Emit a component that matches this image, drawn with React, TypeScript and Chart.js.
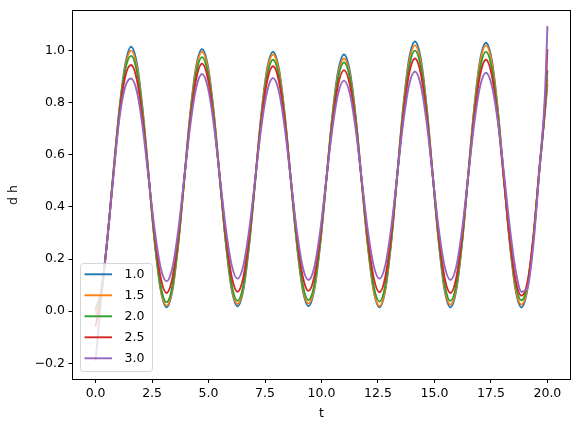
import React, { useEffect, useRef } from "react";
import { Chart, registerables } from "chart.js";

Chart.register(...registerables);

// time samples (t)
const tValues = [
  0, 0.262, 0.524, 0.785, 1.047, 1.309, 1.571, 1.833, 2.094, 2.356, 2.618, 2.88,
  3.142, 3.403, 3.665, 3.927, 4.189, 4.451, 4.712, 4.974, 5.236, 5.498, 5.76, 6.021,
  6.283, 6.545, 6.807, 7.069, 7.33, 7.592, 7.854, 8.116, 8.378, 8.639, 8.901, 9.163,
  9.425, 9.687, 9.948, 10.21, 10.472, 10.734, 10.996, 11.257, 11.519, 11.781, 12.043, 12.305,
  12.566, 12.828, 13.09, 13.352, 13.614, 13.875, 14.137, 14.399, 14.661, 14.923, 15.184, 15.446,
  15.708, 15.97, 16.232, 16.493, 16.755, 17.017, 17.279, 17.541, 17.802, 18.064, 18.326, 18.588,
  18.85, 19.111, 19.373, 19.635, 19.897, 20.0,
];

const seriesLabels = ["1.0", "1.5", "2.0", "2.5", "3.0"];
const seriesColors = ["#1f77b4", "#ff7f0e", "#2ca02c", "#d62728", "#9467bd"];

const dh10 = [
  0.0, 0.085, 0.28, 0.53, 0.77, 0.945, 1.015,
  0.948, 0.765, 0.515, 0.265, 0.082, 0.015,
  0.081, 0.263, 0.51, 0.758, 0.939, 1.005,
  0.939, 0.759, 0.512, 0.266, 0.085, 0.019,
  0.084, 0.263, 0.507, 0.751, 0.93, 0.995,
  0.93, 0.751, 0.508, 0.264, 0.085, 0.02,
  0.085, 0.261, 0.503, 0.744, 0.92, 0.985,
  0.92, 0.743, 0.5, 0.258, 0.08, 0.015,
  0.083, 0.27, 0.525, 0.78, 0.967, 1.035,
  0.967, 0.78, 0.525, 0.27, 0.083, 0.015,
  0.083, 0.269, 0.523, 0.776, 0.962, 1.03,
  0.962, 0.776, 0.523, 0.269, 0.083, 0.015,
  0.082, 0.27, 0.53, 0.77, 0.87,
];

const dh15 = [
  -0.02, 0.08, 0.28, 0.53, 0.765, 0.935, 1.0,
  0.934, 0.756, 0.511, 0.267, 0.088, 0.022,
  0.087, 0.265, 0.509, 0.752, 0.93, 0.995,
  0.93, 0.753, 0.512, 0.27, 0.093, 0.028,
  0.092, 0.267, 0.507, 0.746, 0.921, 0.985,
  0.921, 0.746, 0.508, 0.269, 0.094, 0.03,
  0.093, 0.265, 0.5, 0.735, 0.907, 0.97,
  0.906, 0.733, 0.495, 0.258, 0.084, 0.02,
  0.087, 0.27, 0.52, 0.77, 0.953, 1.02,
  0.953, 0.771, 0.523, 0.274, 0.092, 0.025,
  0.092, 0.274, 0.523, 0.771, 0.953, 1.02,
  0.953, 0.771, 0.523, 0.274, 0.092, 0.025,
  0.09, 0.275, 0.53, 0.775, 0.89,
];

const dh20 = [
  0.01, 0.085, 0.28, 0.525, 0.76, 0.925, 0.98,
  0.917, 0.744, 0.508, 0.271, 0.098, 0.035,
  0.098, 0.27, 0.505, 0.74, 0.912, 0.975,
  0.912, 0.741, 0.508, 0.274, 0.103, 0.04,
  0.102, 0.271, 0.503, 0.734, 0.903, 0.965,
  0.903, 0.735, 0.504, 0.274, 0.105, 0.043,
  0.104, 0.271, 0.499, 0.727, 0.894, 0.955,
  0.894, 0.726, 0.496, 0.267, 0.099, 0.037,
  0.102, 0.278, 0.519, 0.759, 0.935, 1.0,
  0.936, 0.76, 0.52, 0.28, 0.104, 0.04,
  0.104, 0.279, 0.518, 0.756, 0.931, 0.995,
  0.931, 0.757, 0.519, 0.28, 0.106, 0.042,
  0.1, 0.28, 0.535, 0.785, 0.925,
];

const dh25 = [
  -0.06, 0.075, 0.28, 0.52, 0.75, 0.9, 0.945,
  0.886, 0.726, 0.508, 0.289, 0.129, 0.07,
  0.129, 0.29, 0.51, 0.73, 0.891, 0.95,
  0.891, 0.731, 0.513, 0.294, 0.134, 0.075,
  0.133, 0.291, 0.508, 0.724, 0.882, 0.94,
  0.882, 0.725, 0.509, 0.294, 0.136, 0.078,
  0.135, 0.29, 0.502, 0.713, 0.868, 0.925,
  0.868, 0.712, 0.499, 0.286, 0.13, 0.073,
  0.133, 0.297, 0.522, 0.746, 0.91, 0.97,
  0.91, 0.745, 0.52, 0.295, 0.13, 0.07,
  0.13, 0.294, 0.518, 0.741, 0.905, 0.965,
  0.904, 0.739, 0.513, 0.286, 0.121, 0.06,
  0.11, 0.28, 0.54, 0.8, 1.005,
];

const dh30 = [
  -0.19, 0.06, 0.28, 0.515, 0.735, 0.86, 0.893,
  0.841, 0.699, 0.504, 0.31, 0.167, 0.115,
  0.168, 0.314, 0.513, 0.711, 0.857, 0.91,
  0.857, 0.714, 0.518, 0.321, 0.178, 0.125,
  0.177, 0.318, 0.51, 0.703, 0.843, 0.895,
  0.843, 0.701, 0.508, 0.314, 0.172, 0.12,
  0.171, 0.311, 0.503, 0.694, 0.834, 0.885,
  0.834, 0.695, 0.505, 0.315, 0.176, 0.125,
  0.178, 0.324, 0.523, 0.721, 0.867, 0.92,
  0.866, 0.72, 0.52, 0.32, 0.174, 0.12,
  0.173, 0.319, 0.518, 0.716, 0.862, 0.915,
  0.865, 0.73, 0.54, 0.33, 0.16, 0.075,
  0.09, 0.25, 0.53, 0.84, 1.094,
];

const seriesValues = [dh10, dh15, dh20, dh25, dh30];

const xTickValues = [0, 2.5, 5, 7.5, 10, 12.5, 15, 17.5, 20];
const yTickValues = [-0.2, 0, 0.2, 0.4, 0.6, 0.8, 1.0];

const FONT = '"DejaVu Sans", sans-serif';
const FS = 12.5;

const fmt = (v: number) => {
  const s = Number(v).toFixed(1);
  return s.startsWith("-") ? "\u2212" + s.slice(1) : s;
};

const framePlugin = {
  id: "mplFrame",
  afterDatasetsDraw(chart: any) {
    const { ctx, chartArea: a } = chart;
    ctx.save();
    ctx.strokeStyle = "#000";
    ctx.lineWidth = 1;
    const l = Math.round(a.left) - 0.5;
    const t = Math.round(a.top) - 0.5;
    const r = Math.round(a.right) + 0.5;
    const b = Math.round(a.bottom) + 0.5;
    ctx.strokeRect(l, t, r - l, b - t);
    ctx.restore();
  },
  afterDraw(chart: any) {
    const { ctx } = chart;
    ctx.save();
    const x0 = 80.5, y0 = 263.5, w = 72, h = 108, rad = 3;
    ctx.beginPath();
    ctx.moveTo(x0 + rad, y0);
    ctx.lineTo(x0 + w - rad, y0);
    ctx.quadraticCurveTo(x0 + w, y0, x0 + w, y0 + rad);
    ctx.lineTo(x0 + w, y0 + h - rad);
    ctx.quadraticCurveTo(x0 + w, y0 + h, x0 + w - rad, y0 + h);
    ctx.lineTo(x0 + rad, y0 + h);
    ctx.quadraticCurveTo(x0, y0 + h, x0, y0 + h - rad);
    ctx.lineTo(x0, y0 + rad);
    ctx.quadraticCurveTo(x0, y0, x0 + rad, y0);
    ctx.closePath();
    ctx.fillStyle = "rgba(255,255,255,0.8)";
    ctx.fill();
    ctx.strokeStyle = "rgba(204,204,204,0.8)";
    ctx.lineWidth = 1;
    ctx.stroke();
    ctx.font = `${FS}px ${FONT}`;
    ctx.textBaseline = "middle";
    ctx.textAlign = "left";
    seriesLabels.forEach((lab, i) => {
      const y = 274.3 + i * 21;
      ctx.strokeStyle = seriesColors[i];
      ctx.lineWidth = 1.9;
      ctx.beginPath();
      ctx.moveTo(84.5, y);
      ctx.lineTo(112, y);
      ctx.stroke();
      ctx.fillStyle = "#000";
      ctx.fillText(lab, 124.5, y + 0.5);
    });
    ctx.restore();
  },
};

export default function App() {
  const canvasRef = useRef<HTMLCanvasElement | null>(null);

  useEffect(() => {
    const canvas = canvasRef.current;
    if (!canvas) return;
    const datasets = seriesValues.map((vals, i) => ({
      label: seriesLabels[i],
      data: tValues.map((t, j) => ({ x: t, y: vals[j] })),
      borderColor: seriesColors[i],
      backgroundColor: seriesColors[i],
      borderWidth: 1.9,
      pointRadius: 0,
      fill: false,
      cubicInterpolationMode: "monotone" as const,
      order: seriesValues.length - 1 - i,
    }));

    const chart = new Chart(canvas, {
      type: "line",
      data: { datasets },
      options: {
        animation: false,
        responsive: false,
        devicePixelRatio: 1,
        layout: { padding: { top: 10, right: 8, left: 0, bottom: 0 } },
        plugins: {
          legend: { display: false },
          tooltip: { enabled: false },
        },
        scales: {
          x: {
            type: "linear",
            min: -1,
            max: 21,
            afterFit: (scale: any) => {
              scale.height = 53;
            },
            afterBuildTicks: (scale: any) => {
              scale.ticks = xTickValues.map((v) => ({ value: v }));
            },
            ticks: {
              callback: (v: any) => fmt(v),
              font: { family: FONT, size: FS },
              color: "#000",
              padding: 3,
              maxRotation: 0,
              autoSkip: false,
            },
            grid: {
              drawOnChartArea: false,
              drawTicks: true,
              tickLength: 4,
              tickColor: "#000",
              tickWidth: 1,
            },
            border: { display: false },
            title: {
              display: true,
              text: "t",
              font: { family: FONT, size: FS },
              color: "#000",
              padding: { top: 0, bottom: 11 },
            },
          },
          y: {
            type: "linear",
            min: -0.26,
            max: 1.152,
            afterFit: (scale: any) => {
              scale.width = 73;
            },
            afterBuildTicks: (scale: any) => {
              scale.ticks = yTickValues.map((v) => ({ value: v }));
            },
            ticks: {
              callback: (v: any) => fmt(v),
              font: { family: FONT, size: FS },
              color: "#000",
              padding: 3.5,
              autoSkip: false,
            },
            grid: {
              drawOnChartArea: false,
              drawTicks: true,
              tickLength: 4.5,
              tickColor: "#000",
              tickWidth: 1,
            },
            border: { display: false },
            title: {
              display: true,
              text: "d h",
              font: { family: FONT, size: FS },
              color: "#000",
              padding: { top: 6.5, bottom: 0 },
            },
          },
        },
      },
      plugins: [framePlugin],
    });
    return () => chart.destroy();
  }, []);

  return (
    <div style={{ position: "absolute", left: 0, top: 0, width: 578, height: 432, background: "#fff" }}>
      <canvas ref={canvasRef} width={578} height={432} style={{ display: "block", width: 578, height: 432 }} />
    </div>
  );
}
